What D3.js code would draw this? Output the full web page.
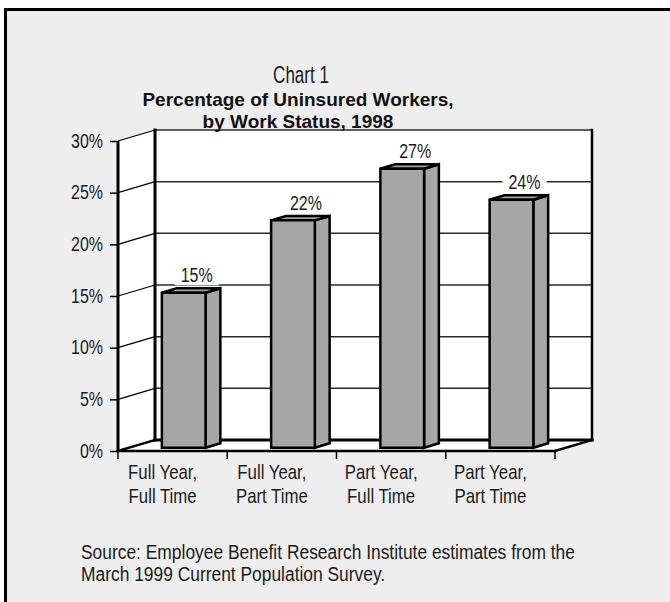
<!DOCTYPE html>
<html>
<head>
<meta charset="utf-8">
<script src="https://cdn.jsdelivr.net/npm/d3@7/dist/d3.min.js"></script>
<style>
  html, body { margin: 0; padding: 0; background: #ffffff; }
  svg { display: block; }
  .narrow { font-family: "Liberation Sans", Arial, sans-serif; fill: #1a1a1a; }
  .bold { font-family: "Liberation Sans", Arial, sans-serif; font-weight: 700; fill: #111; }
</style>
</head>
<body>
<svg id="chart" width="670" height="602"></svg>
<script>
// Uninsured workers by work status, 1998
const categories = ["FYFT", "FYPT", "PYFT", "PYPT"];
const categoryLines = [
  ["Full Year,", "Full Time"],
  ["Full Year,", "Part Time"],
  ["Part Year,", "Full Time"],
  ["Part Year,", "Part Time"]
];
const values = [15, 22, 27, 24];
const yTicks = [0, 5, 10, 15, 20, 25, 30];
const yTickLabels = ["0%", "5%", "10%", "15%", "20%", "25%", "30%"];
const titleLines = ["Percentage of Uninsured Workers,", "by Work Status, 1998"];
const sourceLines = [
  "Source: Employee Benefit Research Institute estimates from the",
  "March 1999 Current Population Survey."
];

const svg = d3.select("#chart");
const SX = 0.82; // horizontal squeeze for the condensed face

// condensed text helper
function ntext(parent, px, py, str, size, anchor, sx) {
  const k = sx || SX;
  return parent.append("text").attr("class", "narrow")
    .attr("transform", `translate(${px},${py}) scale(${k},1)`)
    .attr("text-anchor", anchor || "start")
    .style("font-size", size + "px")
    .text(str);
}

// panel frame
svg.append("rect")
  .attr("x", 5.5).attr("y", 9.5)
  .attr("width", 720).attr("height", 700)
  .attr("fill", "#eeeeee")
  .attr("stroke", "#000").attr("stroke-width", 3);

// plot geometry: front plane plus a receding depth
const x0 = 118, x1 = 555;
const DX = 37, DY = -11;
const x = d3.scaleBand().domain(categories).range([x0, x1])
  .paddingInner(0.6).paddingOuter(0.3);
const y = d3.scaleLinear().domain([0, 30]).range([451, 141]);
const proj = (px, py, d) => [px + d * DX, py + d * DY];
const barFront = 0.3, barBack = 0.7;

const g = svg.append("g");
const yMin = y(0), yMax = y(30);

// back wall, side wall, floor
g.append("polygon")
  .attr("points", [proj(x0, yMax, 1), proj(x1, yMax, 1), proj(x1, yMin, 1), proj(x0, yMin, 1)].join(" "))
  .attr("fill", "#fff");
g.append("polygon")
  .attr("points", [[x0, yMin], proj(x0, yMin, 1), proj(x0, yMax, 1), [x0, yMax]].join(" "))
  .attr("fill", "#fff");
g.append("polygon")
  .attr("points", [[x0, yMin], [x1, yMin], proj(x1, yMin, 1), proj(x0, yMin, 1)].join(" "))
  .attr("fill", "#fff");

// gridlines on the back wall and side wall
yTicks.forEach(t => {
  const a = proj(x0, y(t), 1), b = proj(x1, y(t), 1);
  if (t > 0) {
    g.append("line").attr("x1", a[0]).attr("y1", a[1]).attr("x2", b[0]).attr("y2", b[1])
      .attr("stroke", "#2a2a2a").attr("stroke-width", 1.5);
  }
  g.append("line").attr("x1", x0).attr("y1", y(t)).attr("x2", a[0]).attr("y2", a[1])
    .attr("stroke", "#000").attr("stroke-width", 1.3);
});

// wall and floor edges
const thick = (p, q, w) => g.append("line")
  .attr("x1", p[0]).attr("y1", p[1]).attr("x2", q[0]).attr("y2", q[1])
  .attr("stroke", "#000").attr("stroke-width", w).attr("stroke-linecap", "square");
thick(proj(x0, yMin, 1), proj(x0, yMax, 1), 3);
thick(proj(x1, yMin, 1), proj(x1, yMax, 1), 2.5);
thick(proj(x0, yMin, 1), proj(x1, yMin, 1), 3);
thick([x0, yMin], proj(x0, yMin, 1), 2.5);
thick([x1, yMin], proj(x1, yMin, 1), 2.5);
thick([x0, yMin], [x1, yMin], 2.5);

// bars: front, side and top faces
const bars = g.append("g");
categories.forEach((c, i) => {
  const v = values[i];
  const L = x(c), R = x(c) + x.bandwidth();
  const T = y(v), B = y(0);
  const fLT = proj(L, T, barFront), fRT = proj(R, T, barFront), fRB = proj(R, B, barFront), fLB = proj(L, B, barFront);
  const bLT = proj(L, T, barBack), bRT = proj(R, T, barBack), bRB = proj(R, B, barBack);
  const style = s => s.attr("fill", "#a6a6a6").attr("stroke", "#000")
    .attr("stroke-width", 2.5).attr("stroke-linejoin", "miter");
  bars.append("polygon").attr("points", [fRT, bRT, bRB, fRB].join(" ")).call(style);
  bars.append("polygon").attr("points", [fLT, bLT, bRT, fRT].join(" ")).call(style);
  bars.append("polygon").attr("points", [fLT, fRT, fRB, fLB].join(" ")).call(style);

  // value label with white backing
  const cx = (L + R) / 2 + barFront * DX + 13;
  const by = bLT[1] - 6;
  const lab = bars.append("g");
  const txt = ntext(lab, cx, by, d3.format(".0f")(v) + "%", 19.5, "middle");
  const w = txt.node().getBBox().width * SX;
  lab.insert("rect", "text")
    .attr("x", cx - w / 2 - 6).attr("y", by - 15).attr("width", w + 12).attr("height", 18)
    .attr("fill", "#fff");
});

// y axis
const yAxis = d3.axisLeft(y).tickValues(yTicks)
  .tickFormat((d, i) => yTickLabels[i]).tickSize(8).tickPadding(6);
const ya = svg.append("g").attr("transform", `translate(${x0},0)`).call(yAxis);
ya.select(".domain").remove();
ya.selectAll(".tick line").attr("stroke", "#000").attr("stroke-width", 1.5);
ya.selectAll(".tick text")
  .attr("class", "narrow")
  .attr("font-family", null).attr("font-size", null)
  .style("font-size", "19.5px")
  .attr("x", -15 / SX)
  .attr("transform", `scale(${SX},1)`);
svg.append("line").attr("x1", x0).attr("y1", yMin + 1).attr("x2", x0).attr("y2", yMax)
  .attr("stroke", "#000").attr("stroke-width", 3);

// category ticks under the floor
d3.range(categories.length + 1).forEach(i => {
  const tx = x0 + i * x.step();
  svg.append("line").attr("x1", tx).attr("y1", yMin).attr("x2", tx).attr("y2", yMin + 8)
    .attr("stroke", "#000").attr("stroke-width", 1.5);
});

// category labels
categories.forEach((c, i) => {
  const cx = x(c) + x.bandwidth() / 2 - 10;
  categoryLines[i].forEach((line, k) => {
    ntext(svg, cx, 479 + k * 24, line, 20.5, "middle");
  });
});

// titles
ntext(svg, 301, 83, "Chart 1", 23, "middle", 0.74);
titleLines.forEach((line, k) => {
  svg.append("text").attr("class", "bold").attr("x", 298).attr("y", 106 + k * 22)
    .attr("text-anchor", "middle").style("font-size", "19px").text(line);
});

// source note
sourceLines.forEach((line, k) => {
  ntext(svg, 81, 559 + k * 22, line, 20, "start", 0.87);
});
</script>
</body>
</html>
